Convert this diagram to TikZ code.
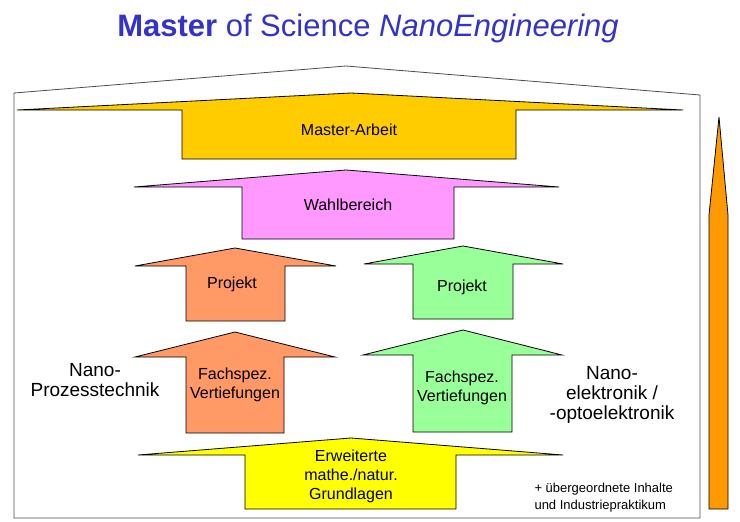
\documentclass[tikz,border=0pt]{standalone}
\usepackage{fontspec}
\setmainfont{Liberation Sans}
\usepackage{tikz}
\usetikzlibrary{positioning}
\definecolor{titelblau}{HTML}{3333CC}
\definecolor{masterfarbe}{HTML}{FFCC00}
\definecolor{wahlfarbe}{HTML}{FF99FF}
\definecolor{prozessfarbe}{HTML}{FF9966}
\definecolor{elektrofarbe}{HTML}{99FF99}
\definecolor{grundfarbe}{HTML}{FFFF00}
\definecolor{zeitfarbe}{HTML}{FF9900}
\tikzset{
  pfeil/.style={draw=black,line width=0.8pt,line join=miter},
  innen/.style={font=\fontsize{16}{19}\selectfont,align=center},
  seite/.style={font=\fontsize{19}{20}\selectfont,align=center}
}
% Pfeil nach oben: Kopf links, Kopf rechts, Kopfhoehe, Spitze x, Spitze y, Schaft links, Schaft rechts, Boden
\newcommand{\hochPfeil}[9]{%
  (#6,#9) -- (#6,#3) -- (#1,#3) -- (#4,#5) -- (#2,#3) -- (#7,#3) -- (#7,#9) -- cycle}
\begin{document}
\begin{tikzpicture}[x=1pt,y=-1pt]
\useasboundingbox (0,0) rectangle (740,522);
%Titel
\node[text=titelblau,font=\fontsize{31}{34}\selectfont] (titel) at (368,28)
  {\textbf{Master} of Science \textit{NanoEngineering}};
%Haus
\draw[line width=0.8pt,draw=black!70] (14,518) -- (14,93) -- (346,66) -- (700,95) -- (700,518) -- cycle;
%Pfeile
\draw[pfeil,fill=masterfarbe] \hochPfeil{17}{683}{110}{351}{93}{182}{516}{}{159};
\draw[pfeil,fill=wahlfarbe] \hochPfeil{134}{559}{187}{346}{170}{242}{454}{}{239};
\draw[pfeil,fill=prozessfarbe] \hochPfeil{135}{336}{266}{235}{248}{186}{285}{}{321};
\draw[pfeil,fill=elektrofarbe] \hochPfeil{364}{563}{264}{463}{246}{413}{513}{}{319};
\draw[pfeil,fill=prozessfarbe] \hochPfeil{135}{335}{357}{235}{332}{186}{284}{}{433};
\draw[pfeil,fill=elektrofarbe] \hochPfeil{363}{562}{355}{463}{330}{413}{512}{}{432};
\draw[pfeil,fill=grundfarbe] \hochPfeil{138}{563}{455}{351}{438}{245}{456}{}{509};
%Zeitpfeil
\draw[pfeil,fill=zeitfarbe] (709,509) -- (709,215) -- (719,117) -- (728,215) -- (728,509) -- cycle;
%Beschriftungen
\node[innen] (master) at (349,130) {Master-Arbeit};
\node[innen] (wahl) at (348,205) {Wahlbereich};
\node[innen] (projektL) at (232,284) {Projekt};
\node[innen] (projektR) at (462,287) {Projekt};
\node[innen] (fachL) at (235,385) {Fachspez.\\Vertiefungen};
\node[innen] (fachR) at (462,388) {Fachspez.\\Vertiefungen};
\node[innen] (grund) at (351,476) {Erweiterte\\mathe./natur.\\Grundlagen};
\node[seite] (prozess) at (95,380) {Nano-\\Prozesstechnik};
\node[seite] (elektro) at (612,395) {Nano-\\elektronik /\\-optoelektronik};
\node[font=\fontsize{13}{17}\selectfont,align=left,anchor=west] (extra) at (531,498)
  {+ übergeordnete Inhalte\\und Industriepraktikum};
\end{tikzpicture}
\end{document}
